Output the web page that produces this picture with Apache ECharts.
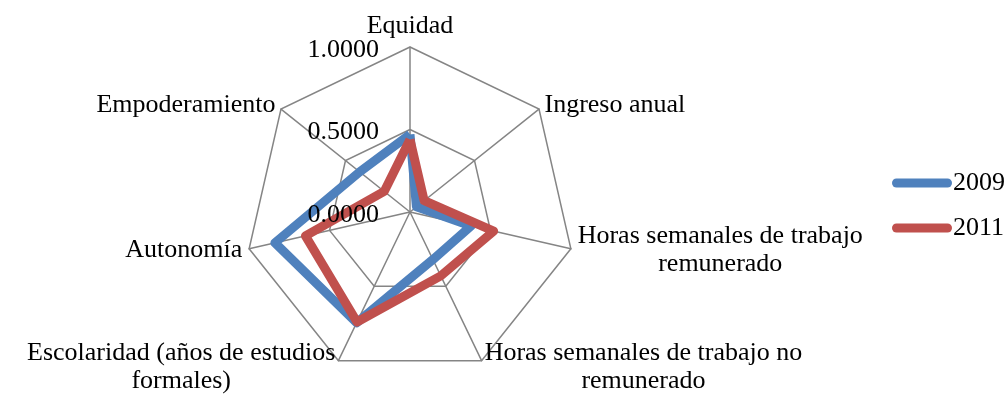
<!DOCTYPE html>
<html>
<head>
<meta charset="utf-8">
<script src="https://cdn.jsdelivr.net/npm/echarts@6/dist/echarts.min.js"></script>
<style>
html,body{margin:0;padding:0;background:#fff;}
#chart{width:1008px;height:394px;}
</style>
</head>
<body>
<div id="chart"></div>
<script>
// Indicators in clockwise order starting at the top
var categories = [
  'Equidad',
  'Ingreso anual',
  'Horas semanales de trabajo\nremunerado',
  'Horas semanales de trabajo no\nremunerado',
  'Escolaridad (años de estudios\nformales)',
  'Autonomía',
  'Empoderamiento'
];
var values2009 = [0.47, 0.05, 0.38, 0.32, 0.745, 0.84, 0.39];
var values2011 = [0.44, 0.11, 0.52, 0.43, 0.74, 0.65, 0.20];
var seriesNames = ['2009', '2011'];
var tickLabelDecimals = 4;

// ECharts lays radar indicators counter-clockwise; reorder to clockwise
var order = [0];
for (var i = categories.length - 1; i > 0; i--) order.push(i);
function reorder(arr) { return order.map(function (k) { return arr[k]; }); }

var FONT = 'Liberation Serif';
var GRID = '#858585';
var CENTER = [410, 212];
var RADIUS = 165;

var indicators = reorder(categories).map(function (name) {
  return { name: name, min: 0, max: 1 };
});
// overlay radar used only for the value labels of the first axis (drawn above the series)
var labelIndicators = reorder(categories).map(function (name, idx) {
  var ind = { name: '', min: 0, max: 1 };
  if (idx === 0) {
    ind.axisLabel = {
      show: true,
      fontFamily: FONT,
      fontSize: 26,
      color: '#000',
      margin: 31,
      formatter: function (v) { return '{v|' + Number(v).toFixed(tickLabelDecimals) + '}'; },
      rich: { v: { fontFamily: FONT, fontSize: 26, color: '#000', padding: [6, 0, 0, 0] } }
    };
  }
  return ind;
});

var chart = echarts.init(document.getElementById('chart'));
chart.setOption({
  animation: false,
  backgroundColor: '#fff',
  legend: {
    orient: 'vertical',
    left: 887,
    top: 165,
    itemWidth: 60,
    itemHeight: 9,
    itemGap: 19,
    icon: 'path://M4.5,0 L55.5,0 A4.5,4.5 0 0 1 55.5,9 L4.5,9 A4.5,4.5 0 0 1 4.5,0 Z',
    textStyle: { fontFamily: FONT, fontSize: 26, color: '#000', lineHeight: 26, padding: [0, 0, 0, -4] },
    data: seriesNames
  },
  radar: [{
    center: CENTER,
    radius: RADIUS,
    startAngle: 90,
    splitNumber: 2,
    shape: 'polygon',
    nameGap: 7,
    axisName: {
      color: '#000',
      fontFamily: FONT,
      fontSize: 26,
      lineHeight: 28,
      formatter: function (name) {
        return name.split('\n').map(function (l) { return '{c|' + l + '}'; }).join('\n');
      },
      rich: {
        c: { align: 'center', fontFamily: FONT, fontSize: 26, lineHeight: 28, color: '#000' }
      }
    },
    axisLine: { lineStyle: { color: GRID, width: 1.5 } },
    splitLine: { lineStyle: { color: GRID, width: 1.5 } },
    splitArea: { show: false },
    axisTick: { show: false },
    axisLabel: { show: false },
    indicator: indicators
  }, {
    z: 5,
    center: CENTER,
    radius: RADIUS,
    startAngle: 90,
    splitNumber: 2,
    shape: 'polygon',
    axisName: { show: false },
    axisLine: { show: false },
    splitLine: { show: false },
    splitArea: { show: false },
    axisTick: { show: false },
    axisLabel: { show: false },
    indicator: labelIndicators
  }],
  series: [{
    type: 'radar',
    radarIndex: 0,
    symbol: 'none',
    data: [
      { name: seriesNames[0], value: reorder(values2009),
        lineStyle: { color: '#4F81BD', width: 9, join: 'round' }, itemStyle: { color: '#4F81BD' } },
      { name: seriesNames[1], value: reorder(values2011),
        lineStyle: { color: '#C0504D', width: 9, join: 'round' }, itemStyle: { color: '#C0504D' } }
    ]
  }]
});
</script>
</body>
</html>
